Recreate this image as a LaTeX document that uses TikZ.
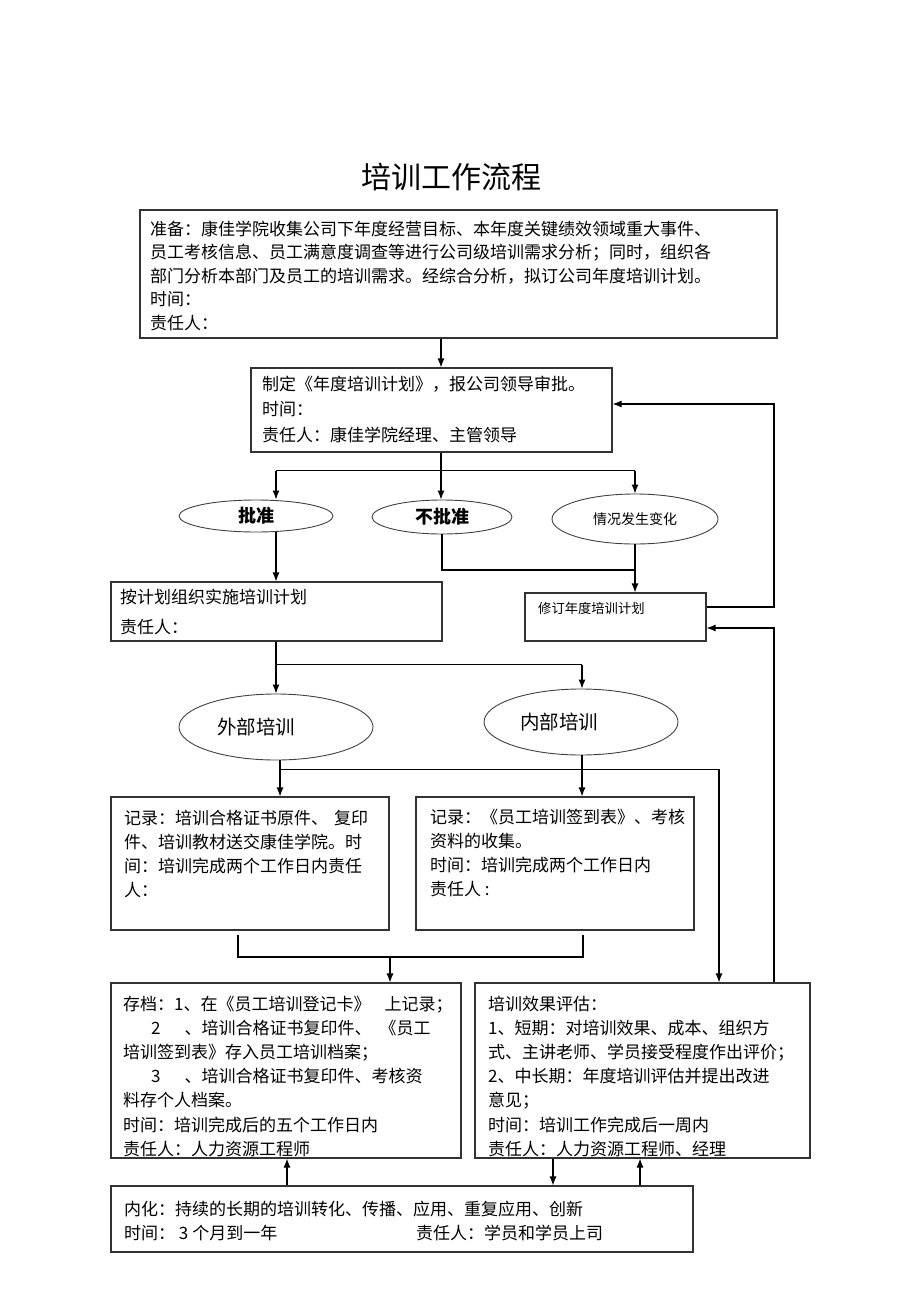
\documentclass[tikz,border=0pt]{standalone}
\usepackage{fontspec}
\newfontfamily\cjk{Noto Sans CJK SC}
\usetikzlibrary{positioning,fit,shapes.geometric,arrows.meta}
\begin{document}
\begin{tikzpicture}[x=1pt,y=-1pt,
  box/.style={draw=black!80,line width=1.1pt,inner sep=0pt},
  txt/.style={anchor=north west,align=left,inner sep=0pt,font=\cjk\fontsize{17}{24.2}\selectfont},
  oval/.style={draw=black!75,line width=0.9pt,ellipse,inner sep=0pt},
  arr/.style={-{Latex[length=9pt,width=7pt]},line width=1.1pt},
  ln/.style={line width=1.1pt}]
\useasboundingbox (0,0) rectangle (920,1303);
\node[font=\cjk\fontsize{30}{36}\selectfont] (title) at (451,177) {培训工作流程};
\node[box,fit={(140,210) (777,338)}] (prep) {};
\node[txt,font=\cjk\fontsize{17}{23.5}\selectfont] (prept) at (150,220.5) {准备：康佳学院收集公司下年度经营目标、本年度关键绩效领域重大事件、\\员工考核信息、员工满意度调查等进行公司级培训需求分析；同时，组织各\\部门分析本部门及员工的培训需求。经综合分析，拟订公司年度培训计划。\\时间：\\责任人：};
\node[box,fit={(251,368) (612,452)}] (plan) {};
\node[txt,font=\cjk\fontsize{17}{25.5}\selectfont] (plant) at (262,375.5) {制定《年度培训计划》，报公司领导审批。\\时间：\\责任人：康佳学院经理、主管领导};
\node[oval,minimum width=154pt,minimum height=32pt,font=\cjk\bfseries\fontsize{18}{20}\selectfont] (ok) at (256,516) {批准};
\node[oval,minimum width=140pt,minimum height=34pt,font=\cjk\bfseries\fontsize{18}{20}\selectfont] (no) at (442,517) {不批准};
\node[oval,minimum width=166pt,minimum height=50pt,font=\cjk\fontsize{14}{16}\selectfont] (chg) at (635,519) {情况发生变化};
\node[box,fit={(111,582) (442,641)}] (exec) {};
\node[txt,font=\cjk\fontsize{17}{30}\selectfont] (exect) at (120,588.5) {按计划组织实施培训计划\\责任人：};
\node[box,fit={(525,593) (706,641)}] (rev) {};
\node[txt,font=\cjk\fontsize{13.3}{16}\selectfont] (revt) at (538,602) {修订年度培训计划};
\node[oval,minimum width=194pt,minimum height=66pt,font=\cjk\fontsize{19.5}{22}\selectfont] (ext) at (276,727) {外部培训\hspace*{40pt}};
\node[oval,minimum width=194pt,minimum height=66pt,font=\cjk\fontsize{19.5}{22}\selectfont] (int) at (581,722) {内部培训\hspace*{44pt}};
\node[box,fit={(111,797) (389,930)}] (rec1) {};
\node[txt] (rec1t) at (124,809.5) {记录：培训合格证书原件、\hspace{6pt}复印\\件、培训教材送交康佳学院。时\\间：培训完成两个工作日内责任\\人：};
\node[box,fit={(416,797) (694,930)}] (rec2) {};
\node[txt] (rec2t) at (430,808.5) {记录：《员工培训签到表》、考核\\资料的收集。\\时间：培训完成两个工作日内\\责任人 :};
\node[box,fit={(111,983) (461,1158)}] (arch) {};
\node[txt] (archt) at (123,995.5) {存档：1、在《员工培训登记卡》\hspace{14pt}上记录；\\\hspace*{28pt}2\hspace{24pt}、培训合格证书复印件、\hspace{8pt}《员工\\培训签到表》存入员工培训档案；\\\hspace*{28pt}3\hspace{24pt}、培训合格证书复印件、考核资\\料存个人档案。\\时间：培训完成后的五个工作日内\\责任人：人力资源工程师};
\node[box,fit={(475,983) (810,1158)}] (eval) {};
\node[txt] (evalt) at (488,995.5) {培训效果评估：\\1、短期：对培训效果、成本、组织方\\式、主讲老师、学员接受程度作出评价；\\2、中长期：年度培训评估并提出改进\\意见；\\时间：培训工作完成后一周内\\责任人：人力资源工程师、经理};
\node[box,fit={(111,1186) (693,1252)}] (intern) {};
\node[txt] (internt) at (124,1200.5) {内化：持续的长期的培训转化、传播、应用、重复应用、创新\\\makebox[292pt][l]{时间：\ 3 个月到一年}责任人：学员和学员上司};
\coordinate (xa) at (276,0);
\coordinate (xb) at (441,0);
\coordinate (xc) at (635,0);
\coordinate (xd) at (582,0);
\coordinate (xe) at (280,0);
\coordinate (xf) at (719,0);
\coordinate (xr) at (774,0);
\coordinate (join) at (635,570);
\coordinate (pin) at ([yshift=6pt]plan.east);
\coordinate (rout) at ([yshift=10pt]rev.east);
\coordinate (rin) at ([yshift=-11pt]rev.east);
\coordinate (bl) at (238,935);
\coordinate (br) at (583,935);
\coordinate (bm) at (390,957);
\coordinate (xg) at (287,0);
\coordinate (xh) at (553,0);
\coordinate (xi) at (640,0);
\draw[arr] (prep.south -| xb) -- (plan.north -| xb);
\draw[ln] (plan.south -| xb) -- ++(0,18) coordinate (fork);
\draw[ln] (fork -| xa) -- (fork -| xc);
\draw[arr] (fork -| xa) -- (ok.north -| xa);
\draw[arr] (fork) -- (no.north -| xb);
\draw[arr] (fork -| xc) -- (chg.north -| xc);
\draw[arr] (ok.south -| xa) -- (exec.north -| xa);
\draw[ln] (no.south) |- (join);
\draw[arr] (chg.south) -- (rev.north -| xc);
\draw[arr] (rout) -| (xr |- pin) -- (pin);
\draw[arr] (eval.north -| xr) |- (rin);
\draw[ln] (exec.south -| xa) -- ++(0,23) coordinate (fork2);
\draw[ln] (fork2) -- (fork2 -| xd);
\draw[arr] (fork2) -- (ext.north -| xa);
\draw[arr] (fork2 -| xd) -- (int.north -| xd);
\draw[arr] (ext.south -| xe) -- (rec1.north -| xe);
\draw[arr] (ext.south -| xe) ++(0,9) -| (eval.north -| xf);
\draw[arr] (int.south -| xd) -- (rec2.north -| xd);
\draw[ln] (bl) -- ++(0,22) -| (br);
\draw[arr] (bm) -- (arch.north -| bm);
\draw[arr] (intern.north -| xg) -- (arch.south -| xg);
\draw[arr] (eval.south -| xh) -- (intern.north -| xh);
\draw[arr] (intern.north -| xi) -- (eval.south -| xi);
\end{tikzpicture}
\end{document}
